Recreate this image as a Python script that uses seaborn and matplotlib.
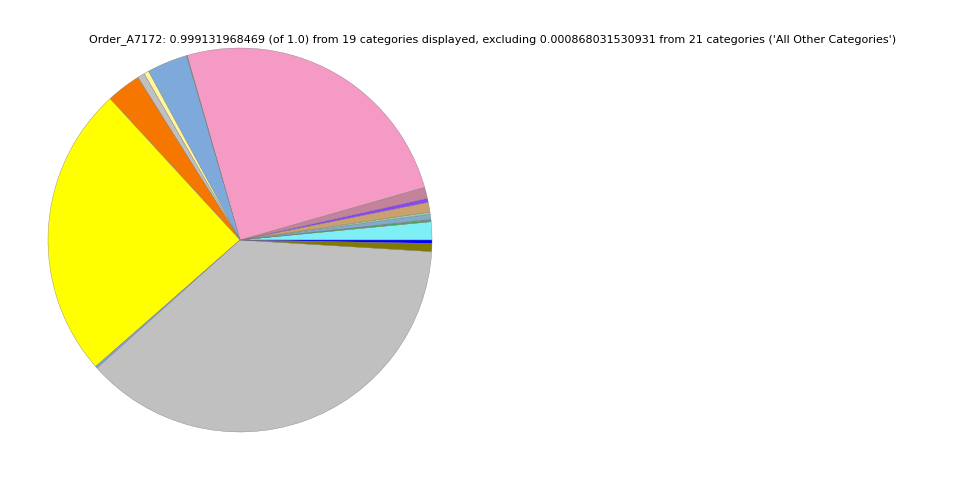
import numpy as np
import matplotlib
matplotlib.use('Agg')
import matplotlib.pyplot as plt
import seaborn as sns

sns.set_style('white')
plt.rcParams['font.family'] = ['DejaVu Sans']

# slices in drawing order (counter-clockwise from 3 o'clock)
categories = ['C01', 'C02', 'C03', 'C04', 'C05', 'C06', 'C07', 'C08', 'C09', 'C10',
              'C11', 'C12', 'C13', 'C14', 'C15', 'C16', 'C17', 'C18', 'C19']
shares = [0.0152, 0.0014, 0.0006, 0.0042, 0.0019, 0.0082, 0.0033, 0.0094, 0.2500, 0.0006,
          0.0340, 0.0042, 0.0060, 0.0290, 0.2460, 0.0017, 0.3738, 0.0068, 0.0028]
colors = ['#7eeff4', '#3cb043', '#5fa8a0', '#84a9cc', '#8fd2a8', '#c9a06e', '#8a44fa', '#c3839a',
          '#f49ac4', '#5f8f96', '#7eaadb', '#fff799', '#c0c0c0', '#f57700', '#ffff00',
          '#7ea4d8', '#c0c0c0', '#807a00', '#0000ff']

title = ("Order_A7172: 0.999131968469 (of 1.0) from 19 categories displayed, "
         "excluding 0.000868031530931 from 21 categories ('All Other Categories')")

fig = plt.figure(figsize=(9.6, 4.8), dpi=100)
ax = fig.add_axes([0.05, 0.1, 0.4, 0.8])
ax.pie(shares, colors=colors, startangle=0, counterclock=True, radius=1.0,
       wedgeprops={'edgecolor': '#777777', 'linewidth': 0.25})
ax.set_xlim(-1, 1)
ax.set_ylim(-1, 1)
ax.set_aspect('equal')
ax.axis('off')

fig.text(0.5135, 1 - 40 / 480, title, ha='center', va='center', fontsize=8.05, color='black')

fig.savefig('out.png', dpi=100)
